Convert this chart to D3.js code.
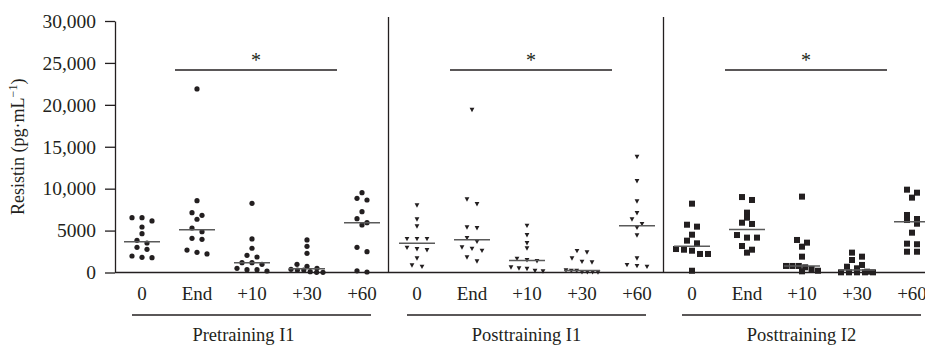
<!DOCTYPE html>
<html>
<head>
<meta charset="utf-8">
<script src="https://cdn.jsdelivr.net/npm/d3@7"></script>
<style>
  body { margin: 0; background: #fff; }
  text { font-family: "Liberation Serif", "DejaVu Serif", serif; fill: #231f20; }
</style>
</head>
<body>
<script>
// ---- data ----
const categories = ["0", "End", "+10", "+30", "+60"];
const groups = ["Pretraining I1", "Posttraining I1", "Posttraining I2"];
const yTicks = [0, 5000, 10000, 15000, 20000, 25000, 30000];
const yTitle = "Resistin (pg·mL";
const ySup = "−1";

// Pretraining I1 (circles)
const pre0   = [6150, 6540, 6540, 5430, 4630, 3840, 3520, 3000, 2770, 1970, 1810, 1770];
const preEnd = [21900, 8570, 7140, 6820, 6350, 5310, 4870, 4080, 3960, 2680, 2410, 2210];
const pre10  = [8250, 4000, 2890, 2050, 1850, 1170, 1170, 980, 500, 340, 340, 180];
const pre30  = [3880, 3120, 2290, 980, 740, 500, 380, 300, 300, 100, 20, 20];
const pre60  = [9520, 8850, 8650, 7260, 6420, 5940, 5670, 3000, 2480, 200, 60];

// Posttraining I1 (triangles)
const postA0   = [8020, 6350, 5510, 4000, 4000, 4000, 2960, 2800, 2680, 1690, 860, 690];
const postAEnd = [19400, 8730, 8170, 5390, 5310, 4120, 3680, 3000, 2840, 2600, 1810, 1340];
const postA10  = [5590, 4470, 3520, 2890, 1650, 1490, 1370, 620, 500, 450, 210, 140];
const postA30  = [2570, 2410, 1690, 1290, 1220, 260, 210, 210, 60, 60, 60, 30];
const postA60  = [13800, 10900, 8500, 7100, 6350, 5790, 5350, 4440, 1690, 900, 780, 690];

// Posttraining I2 (squares)
const postB0   = [8210, 5700, 5470, 4510, 3800, 3480, 2800, 2720, 2600, 2210, 2210, 210];
const postBEnd = [9000, 8650, 7140, 6540, 5940, 5790, 4470, 4160, 4160, 3160, 2720, 2370];
const postB10  = [9050, 3880, 3560, 3080, 1890, 780, 780, 780, 620, 420, 210, 140];
const postB30  = [2370, 1890, 1490, 900, 690, 500, 100, 20, 20, 20, 20, 20];
const postB60  = [9880, 9520, 8930, 6860, 6380, 6260, 5820, 4750, 3440, 3370, 2480, 2480];

const seriesValues = [
  [pre0, preEnd, pre10, pre30, pre60],
  [postA0, postAEnd, postA10, postA30, postA60],
  [postB0, postBEnd, postB10, postB30, postB60]
];
const sigFrom = "End", sigTo = "+30", sigLabel = "*";

// ---- layout ----
const W = 925, H = 349;
const ink = "#231f20";
const svg = d3.select("body").append("svg").attr("width", W).attr("height", H);

const keys = groups.flatMap(g => categories.map(c => g + "|" + c));
const x = d3.scalePoint().domain(keys).range([142, 912]);
const y = d3.scaleLinear().domain([0, 30000]).range([272.5, 21]);
const axisX = 115;

// y axis
const yAxis = d3.axisLeft(y).tickValues(yTicks).tickSize(10).tickSizeOuter(0).tickPadding(9)
  .tickFormat(d => d >= 10000 ? d3.format(",")(d) : String(d));
const ya = svg.append("g").attr("transform", `translate(${axisX},0)`).call(yAxis);
ya.attr("font-family", null);
ya.select(".domain").attr("stroke", ink).attr("stroke-width", 1.3);
ya.selectAll(".tick line").attr("stroke", ink).attr("stroke-width", 1.3);
ya.selectAll(".tick text").attr("font-size", 19.5).attr("fill", ink);

// y title
const yt = svg.append("text").attr("transform", `translate(24,${(y(0) + y(30000)) / 2}) rotate(-90)`)
  .attr("text-anchor", "middle").attr("font-size", 18);
yt.append("tspan").text(yTitle);
yt.append("tspan").attr("dy", -7).attr("font-size", 12).text(ySup);
yt.append("tspan").attr("dy", 7).text(")");

// bottom axis line
svg.append("line").attr("x1", axisX).attr("x2", W).attr("y1", y(0)).attr("y2", y(0))
  .attr("stroke", ink).attr("stroke-width", 1.3);

// separators
groups.slice(1).forEach((g, i) => {
  const xs = (x(groups[i] + "|" + categories[categories.length - 1]) + x(g + "|" + categories[0])) / 2 - 1;
  svg.append("line").attr("x1", xs).attr("x2", xs).attr("y1", y(30000) - 4).attr("y2", y(0))
    .attr("stroke", ink).attr("stroke-width", 1.3);
});

// category labels
svg.append("g").selectAll("text").data(keys).join("text")
  .attr("x", d => x(d)).attr("y", 300).attr("text-anchor", "middle").attr("font-size", 19)
  .text(d => d.split("|")[1]);

// group lines + labels
groups.forEach((g, gi) => {
  const x0 = x(g + "|" + categories[0]) - 10, x1 = x(g + "|" + categories[categories.length - 1]) + 9;
  svg.append("line").attr("x1", x0).attr("x2", x1).attr("y1", 315).attr("y2", 315)
    .attr("stroke", ink).attr("stroke-width", 1.4);
  svg.append("text").attr("x", (x0 + x1) / 2 - (gi === 0 ? 8 : 0)).attr("y", 341).attr("text-anchor", "middle")
    .attr("font-size", 18.5).text(g);
  // significance bar
  const s0 = x(g + "|" + sigFrom) - 22, s1 = x(g + "|" + sigTo) + 30;
  svg.append("line").attr("x1", s0).attr("x2", s1).attr("y1", 70).attr("y2", 70)
    .attr("stroke", ink).attr("stroke-width", 1.4);
  svg.append("text").attr("x", (s0 + s1) / 2).attr("y", 67).attr("text-anchor", "middle")
    .attr("font-size", 20).text(sigLabel);
});

// point layout (binned scatter)
function layout(vals, spacing) {
  const pts = vals.map(v => ({ v, py: y(v) })).sort((a, b) => a.py - b.py);
  const bins = []; let cur = null;
  pts.forEach(p => {
    if (!cur || p.py - cur.start > 5) { cur = { start: p.py, pts: [] }; bins.push(cur); }
    cur.pts.push(p);
  });
  bins.forEach(b => {
    const n = b.pts.length;
    const s = n > 1 ? Math.min(spacing, 32 / (n - 1)) : 0;
    b.pts.forEach((p, i) => p.dx = (i - (n - 1) / 2) * s);
  });
  return pts;
}

const shapes = ["circle", "triangle", "square"];
groups.forEach((g, gi) => {
  categories.forEach((c, ci) => {
    const vals = seriesValues[gi][ci];
    const cx = x(g + "|" + c);
    const pts = layout(vals, 10);
    const gg = svg.append("g");
    if (shapes[gi] === "circle") {
      gg.selectAll("circle").data(pts).join("circle")
        .attr("cx", d => cx + d.dx).attr("cy", d => d.py).attr("r", 2.6).attr("fill", ink);
    } else if (shapes[gi] === "triangle") {
      gg.selectAll("path").data(pts).join("path")
        .attr("d", d => { const px = cx + d.dx, py = d.py; return `M${px - 2.4},${py - 2}L${px + 2.4},${py - 2}L${px},${py + 2.4}Z`; })
        .attr("fill", ink);
    } else {
      gg.selectAll("rect").data(pts).join("rect")
        .attr("x", d => cx + d.dx - 3).attr("y", d => d.py - 3).attr("width", 6).attr("height", 6)
        .attr("fill", ink);
    }
    // median line
    const m = d3.median(vals);
    svg.append("line").attr("x1", cx - 18).attr("x2", cx + 18).attr("y1", y(m)).attr("y2", y(m))
      .attr("stroke", "#5a5a5a").attr("stroke-width", 1.5);
  });
});
</script>
</body>
</html>
